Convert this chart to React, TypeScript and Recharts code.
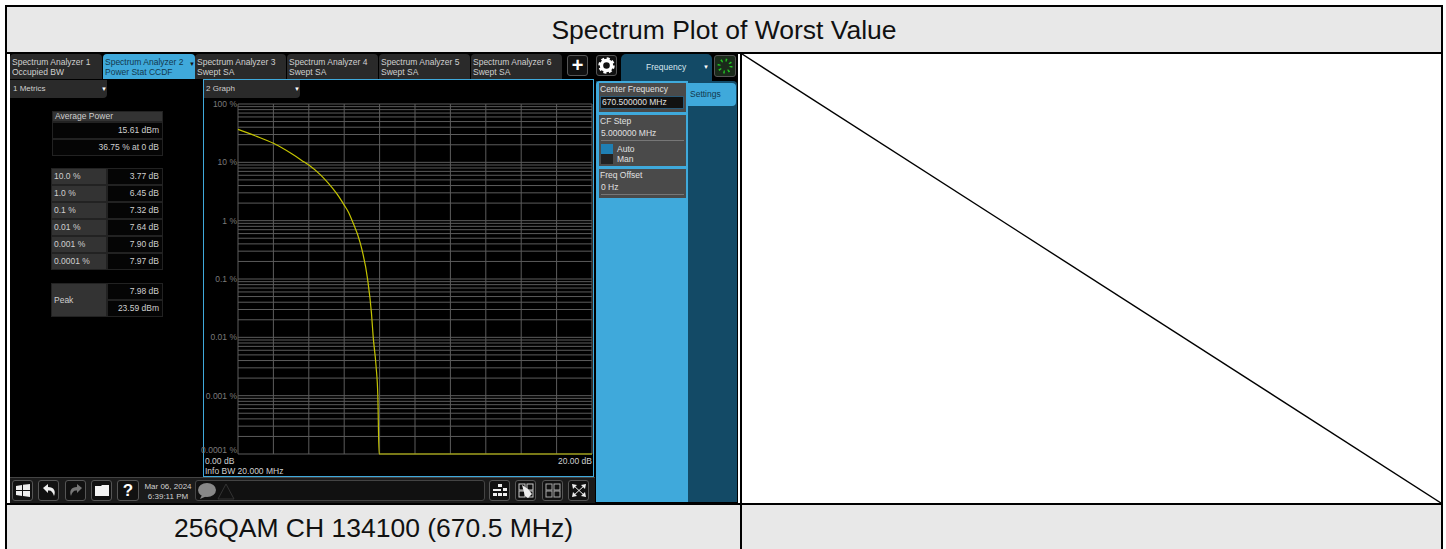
import { CartesianGrid, Line, LineChart, XAxis, YAxis } from "recharts";
import type { CSSProperties, ReactNode } from "react";

const traceDb = [0, 1, 2, 3.06, 3.77, 4, 4.66, 5.1, 5.6, 6, 6.25, 6.45, 6.9, 7.32, 7.54, 7.64, 7.8, 7.9, 7.97, 20];
const tracePct = [36.75, 28.3, 21.2, 13.9, 10, 9, 6.1, 4.4, 2.85, 1.85, 1.38, 1, 0.42, 0.1, 0.026, 0.01, 0.0032, 0.001, 0.0001, 0.0001];

const xTicks = [0, 2, 4, 6, 8, 10, 12, 14, 16, 18, 20];
const decades = [100, 10, 1, 0.1, 0.01, 0.001, 0.0001];
const minorSteps = [9, 8, 7, 6, 5, 4, 3, 2];
const yTicks = [
  100,
  ...decades.slice(1).flatMap((d) => [...minorSteps.map((m) => Number((m * d).toPrecision(2))), d]),
];

const tabs = [
  ["Spectrum Analyzer 1", "Occupied BW"],
  ["Spectrum Analyzer 2", "Power Stat CCDF"],
  ["Spectrum Analyzer 3", "Swept SA"],
  ["Spectrum Analyzer 4", "Swept SA"],
  ["Spectrum Analyzer 5", "Swept SA"],
  ["Spectrum Analyzer 6", "Swept SA"],
];
const tabLefts = [10, 103, 195, 287, 379, 471];

const ccdfLabels = ["10.0 %", "1.0 %", "0.1 %", "0.01 %", "0.001 %", "0.0001 %"];
const ccdfValues = ["3.77 dB", "6.45 dB", "7.32 dB", "7.64 dB", "7.90 dB", "7.97 dB"];

const chartData = traceDb.map((db, i) => ({ db, pct: tracePct[i] }));

const SANS = "'Liberation Sans', Arial, sans-serif";
const BLUE = "#3fa9db";
const TEAL = "#134a66";

const Box = ({ x, y, w, h, style, children }: { x: number; y: number; w: number; h: number; style?: CSSProperties; children?: ReactNode }) => (
  <div style={{ position: "absolute", left: x, top: y, width: w, height: h, boxSizing: "border-box", ...style }}>{children}</div>
);

const Cell = ({ x, y, w, h, text, align, bg }: { x: number; y: number; w: number; h: number; text: string; align: "left" | "right"; bg: string }) => (
  <Box
    x={x}
    y={y}
    w={w}
    h={h}
    style={{
      background: bg,
      border: "1px solid #222",
      color: "#cfcfcf",
      fontSize: 8.5,
      lineHeight: `${h - 2}px`,
      textAlign: align,
      padding: align === "left" ? "0 3px 0 2px" : "0 3px",
      whiteSpace: "nowrap",
    }}
  >
    {text}
  </Box>
);

const YTick = ({ x, y, payload }: any) => {
  if (!decades.includes(payload.value)) return null;
  // the bottom label sits above its line so it clears the 0.00 dB text
  const dy = payload.value === 0.0001 ? -1 : 3;
  return (
    <text x={x} y={y + dy} textAnchor="end" fontSize={8.5} fontFamily={SANS} fill="#7a7a7a">
      {payload.value} %
    </text>
  );
};

const IconBtn = ({ x, w = 21, children }: { x: number; w?: number; children: ReactNode }) => (
  <Box x={x} y={480} w={w} h={21} style={{ border: "1px solid #555", borderRadius: 3, background: "#111" }}>
    <svg width={w - 2} height={19} style={{ display: "block" }}>
      {children}
    </svg>
  </Box>
);

const App = () => (
  <div style={{ position: "absolute", left: 0, top: 0, width: 1446, height: 549, overflow: "hidden", background: "#fff", fontFamily: SANS }}>
    {/* table frame */}
    <Box x={7} y={7} w={1434} h={45} style={{ background: "#e8e8e8", color: "#111", fontSize: 26.5, lineHeight: "47px", textAlign: "center" }}>
      Spectrum Plot of Worst Value
    </Box>
    <Box x={7} y={505} w={733} h={44} style={{ background: "#e8e8e8", color: "#111", fontSize: 26.5, lineHeight: "46px", textAlign: "center" }}>
      256QAM CH 134100 (670.5 MHz)
    </Box>
    <Box x={742} y={505} w={699} h={44} style={{ background: "#e8e8e8" }} />
    <Box x={5} y={5} w={1438} h={2} style={{ background: "#000" }} />
    <Box x={5} y={52} w={1438} h={2} style={{ background: "#000" }} />
    <Box x={5} y={503} w={1438} h={2} style={{ background: "#000" }} />
    <Box x={5} y={5} w={2} h={544} style={{ background: "#000" }} />
    <Box x={740} y={52} w={2} h={497} style={{ background: "#000" }} />
    <Box x={1441} y={5} w={2} h={544} style={{ background: "#000" }} />
    <svg style={{ position: "absolute", left: 742, top: 54 }} width={699} height={449}>
      <line x1={0} y1={0} x2={699} y2={449} stroke="#000" strokeWidth={1.4} />
    </svg>

    {/* analyzer screenshot */}
    <Box x={10} y={54} w={728} h={449} style={{ background: "#000" }} />

    {tabs.map((t, i) => (
      <Box
        key={t[0]}
        x={tabLefts[i]}
        y={54}
        w={i < 2 ? 92 : 91}
        h={25}
        style={{
          background: i === 1 ? BLUE : "#2a2a2a",
          color: i === 1 ? "#12384d" : "#d0d0d0",
          borderRadius: "4px 4px 0 0",
          fontSize: 8.5,
          lineHeight: "9.5px",
          padding: "4px 2px",
          whiteSpace: "nowrap",
        }}
      >
        {t[0]}
        <br />
        {t[1]}
      </Box>
    ))}
    <Box x={189} y={60} w={6} h={8} style={{ color: "#111", fontSize: 6, lineHeight: "8px" }}>▼</Box>

    <Box x={567} y={55} w={21} h={21} style={{ border: "1px solid #555", borderRadius: 3, background: "#111", color: "#fff", fontSize: 20, lineHeight: "18px", textAlign: "center", fontWeight: 700 }}>+</Box>
    <Box x={596} y={55} w={21} h={21} style={{ border: "1px solid #555", borderRadius: 3, background: "#111" }}>
      <svg width={19} height={19} style={{ display: "block" }}>
        <circle cx={9.5} cy={9.5} r={5} fill="none" stroke="#fff" strokeWidth={3.4} />
        <circle cx={9.5} cy={9.5} r={7} fill="none" stroke="#fff" strokeWidth={2.4} strokeDasharray="3 2.5" />
      </svg>
    </Box>
    <Box x={621} y={54} w={91} h={27} style={{ background: TEAL, borderRadius: "5px 5px 0 0", color: "#d8e6ee", fontSize: 8.5, lineHeight: "26px", paddingLeft: 25 }}>
      Frequency
      <span style={{ position: "absolute", left: 82, top: 0, fontSize: 6, color: "#fff" }}>▼</span>
    </Box>
    <Box x={714} y={55} w={22} h={22} style={{ border: "1px solid #555", borderRadius: 3, background: "#1a2a1a" }}>
      <svg width={20} height={20} style={{ display: "block" }}>
        <circle cx={10} cy={10} r={6} fill="none" stroke="#22c322" strokeWidth={3} strokeDasharray="1.4 3.3" />
      </svg>
    </Box>

    {/* metrics window */}
    <Box x={10} y={80} w={97} h={18} style={{ background: "#2a2a2a", borderRadius: "0 0 4px 0", color: "#d0d0d0", fontSize: 8, lineHeight: "18px", paddingLeft: 3 }}>
      1 Metrics
      <span style={{ position: "absolute", left: 91, top: 0, fontSize: 6, color: "#fff" }}>▼</span>
    </Box>
    <Cell x={52} y={111} w={111} h={11} text="Average Power" align="left" bg="#333" />
    <Cell x={52} y={122} w={111} h={17} text="15.61 dBm" align="right" bg="#050505" />
    <Cell x={52} y={139} w={111} h={17} text="36.75 % at 0 dB" align="right" bg="#050505" />
    {ccdfLabels.map((label, i) => (
      <div key={label}>
        <Cell x={51} y={168 + i * 17} w={56} h={17} text={label} align="left" bg="#333" />
        <Cell x={107} y={168 + i * 17} w={56} h={17} text={ccdfValues[i]} align="right" bg="#050505" />
      </div>
    ))}
    <Cell x={51} y={283} w={56} h={34} text="Peak" align="left" bg="#333" />
    <Cell x={107} y={283} w={56} h={17} text="7.98 dB" align="right" bg="#050505" />
    <Cell x={107} y={300} w={56} h={17} text="23.59 dBm" align="right" bg="#050505" />

    {/* graph window */}
    <Box x={203} y={79} w={391} h={398} style={{ border: `1px solid ${BLUE}` }} />
    <Box x={204} y={80} w={96} h={18} style={{ background: "#2a2a2a", borderRadius: "0 0 4px 0", color: "#d0d0d0", fontSize: 8, lineHeight: "18px", paddingLeft: 2 }}>
      2 Graph
      <span style={{ position: "absolute", left: 90, top: 0, fontSize: 6, color: "#fff" }}>▼</span>
    </Box>
    <div style={{ position: "absolute", left: 194, top: 96 }}>
      <LineChart width={399} height={366} data={chartData} margin={{ top: 8, right: 1, bottom: 8, left: 0 }}>
        <CartesianGrid stroke="#5c5c5c" strokeWidth={1} />
        <XAxis dataKey="db" type="number" domain={[0, 20]} ticks={xTicks} hide />
        <YAxis
          dataKey="pct"
          type="number"
          scale="log"
          domain={[0.0001, 100]}
          ticks={yTicks}
          interval={0}
          width={44}
          axisLine={false}
          tickLine={false}
          tickSize={0}
          tickMargin={1}
          tick={<YTick />}
        />
        <Line dataKey="pct" type="monotone" stroke="#c4c400" strokeWidth={1.2} dot={false} isAnimationActive={false} />
      </LineChart>
    </div>
    <Box x={205} y={456} w={60} h={11} style={{ color: "#d0d0d0", fontSize: 8.5, lineHeight: "11px" }}>0.00 dB</Box>
    <Box x={532} y={456} w={60} h={11} style={{ color: "#d0d0d0", fontSize: 8.5, lineHeight: "11px", textAlign: "right" }}>20.00 dB</Box>
    <Box x={205} y={466} w={120} h={11} style={{ color: "#d0d0d0", fontSize: 8.5, lineHeight: "11px" }}>Info BW 20.000 MHz</Box>

    {/* frequency menu */}
    <Box x={596} y={81} w={141} h={421} style={{ background: TEAL, borderTopRightRadius: 4 }} />
    <Box x={596} y={81} w={92} h={421} style={{ background: BLUE, borderRadius: "4px 0 0 0" }} />
    <Box x={688} y={83} w={48} h={23} style={{ background: BLUE, borderRadius: "0 4px 4px 0", color: "#12384d", fontSize: 8.5, lineHeight: "23px", paddingLeft: 2 }}>Settings</Box>
    <Box x={599} y={83} w={87} h={29} style={{ background: "#4a4a4a", color: "#e0e0e0", fontSize: 8.5, lineHeight: "13px", paddingLeft: 1 }}>
      Center Frequency
      <Box x={1} y={13} w={84} h={13} style={{ background: "#111", border: "1px solid #2a5a78", lineHeight: "11px", paddingLeft: 1 }}>670.500000 MHz</Box>
    </Box>
    <Box x={599} y={115} w={87} h={51} style={{ background: "#4a4a4a", color: "#e0e0e0", fontSize: 8.5, lineHeight: "12px", paddingLeft: 1 }}>
      CF Step
      <Box x={2} y={12} w={83} h={14} style={{ borderBottom: "1px solid #777", lineHeight: "13px" }}>5.000000 MHz</Box>
      <Box x={2} y={29} w={12} h={10} style={{ background: "#1f7fb3" }} />
      <Box x={2} y={39} w={12} h={10} style={{ background: "#222" }} />
      <Box x={18} y={29} w={40} h={10} style={{ lineHeight: "10px" }}>Auto</Box>
      <Box x={18} y={39} w={40} h={10} style={{ lineHeight: "10px" }}>Man</Box>
    </Box>
    <Box x={599} y={169} w={87} h={29} style={{ background: "#4a4a4a", color: "#e0e0e0", fontSize: 8.5, lineHeight: "12px", paddingLeft: 1 }}>
      Freq Offset
      <Box x={2} y={12} w={83} h={14} style={{ borderBottom: "1px solid #777", lineHeight: "13px" }}>0 Hz</Box>
    </Box>

    {/* task bar */}
    <Box x={10} y={477} w={585} h={26} style={{ background: "#1b1b1b", borderTop: "1px solid #444" }} />
    <IconBtn x={12}>
      <path d="M3 5 L9 4 L9 9 L3 9 Z M10 3.8 L17 3 L17 9 L10 9 Z M3 10 L9 10 L9 15 L3 14 Z M10 10 L17 10 L17 16 L10 15 Z" fill="#eee" />
    </IconBtn>
    <IconBtn x={38}>
      <path d="M4 7 L9 3 L9 6 C15 6 17 10 15 15 C14 11 12 9 9 9.5 L9 12 Z" fill="#eee" />
    </IconBtn>
    <IconBtn x={65}>
      <path d="M16 7 L11 3 L11 6 C5 6 3 10 5 15 C6 11 8 9 11 9.5 L11 12 Z" fill="#777" />
    </IconBtn>
    <IconBtn x={91}>
      <path d="M3 5 L9 5 L10 4 L17 4 L17 15 L3 15 Z" fill="#f4f4f4" />
    </IconBtn>
    <Box x={117} y={480} w={22} h={21} style={{ border: "1px solid #555", borderRadius: 3, background: "#111", color: "#fff", fontSize: 17, lineHeight: "19px", textAlign: "center", fontWeight: 700 }}>?</Box>
    <Box x={141} y={482} w={54} h={20} style={{ color: "#d0d0d0", fontSize: 8, lineHeight: "9.5px", textAlign: "center" }}>
      Mar 06, 2024
      <br />
      6:39:11 PM
    </Box>
    <Box x={195} y={480} w={290} h={21} style={{ border: "1px solid #444", borderRadius: 3, background: "#111" }} />
    <svg style={{ position: "absolute", left: 196, top: 481 }} width={40} height={20}>
      <ellipse cx={11} cy={9} rx={9} ry={7} fill="#888" />
      <path d="M6 14 L4 18 L11 15 Z" fill="#888" />
      <path d="M22 18 L30 3 L38 18 Z" fill="none" stroke="#333" />
    </svg>
    <IconBtn x={489}>
      <path d="M8 3 H12 V6 H8 Z M3 12 H7 V15 H3 Z M8 12 H12 V15 H8 Z M13 12 H17 V15 H13 Z M13 7 H17 V10 H13 Z M3 8 H11 V10 H3 Z" fill="#eee" />
    </IconBtn>
    <IconBtn x={515}>
      <rect x={3} y={3} width={6} height={6} fill="none" stroke="#ccc" />
      <rect x={11} y={3} width={6} height={6} fill="none" stroke="#ccc" />
      <rect x={3} y={10} width={6} height={6} fill="none" stroke="#ccc" />
      <rect x={11} y={10} width={6} height={6} fill="none" stroke="#ccc" />
      <path d="M6 4 L12 8 L16 13 L12 17 L9 15 Z" fill="#eee" />
    </IconBtn>
    <IconBtn x={542}>
      <rect x={3} y={3} width={6} height={6} fill="none" stroke="#aaa" />
      <rect x={11} y={3} width={6} height={6} fill="none" stroke="#aaa" />
      <rect x={3} y={10} width={6} height={6} fill="none" stroke="#aaa" />
      <rect x={11} y={10} width={6} height={6} fill="none" stroke="#aaa" />
    </IconBtn>
    <IconBtn x={568}>
      <path d="M3 3 L8 4 L4 8 Z M17 3 L12 4 L16 8 Z M3 16 L8 15 L4 11 Z M17 16 L12 15 L16 11 Z" fill="#eee" />
      <path d="M4 4 L16 15 M16 4 L4 15" stroke="#eee" strokeWidth={1} />
    </IconBtn>
  </div>
);

export default App;
